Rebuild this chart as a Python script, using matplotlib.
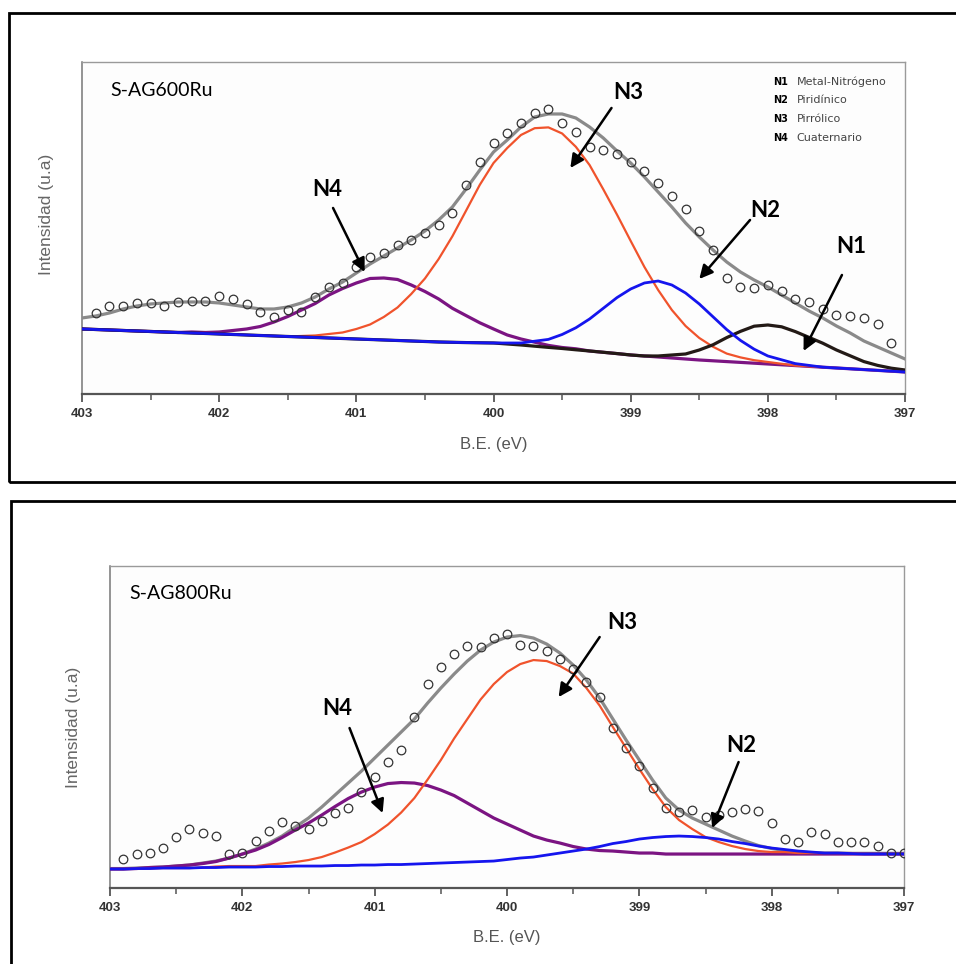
import numpy as np
import matplotlib.pyplot as plt
from matplotlib.patches import Rectangle
from matplotlib.ticker import MultipleLocator

plt.rcParams['font.family'] = ['DejaVu Sans']

# binding energy grid (eV), 0.1 eV steps
be = np.linspace(403, 397, 61)
tick_pos = [403, 402, 401, 400, 399, 398, 397]
tick_lab = ['403', '402', '401', '400', '399', '398', '397']

legend_codes = ['N1', 'N2', 'N3', 'N4']
legend_names = ['Metal-Nitrógeno', 'Piridínico', 'Pirrólico', 'Cuaternario']

# ---------------- S-AG600Ru ----------------
top_bg = [65, 64.5, 64, 63.5, 63, 62.5, 62, 61.5, 61, 60.5,
          60, 59.5, 59, 58.5, 58, 57.5, 57, 56.5, 56, 55.5,
          55, 54.5, 54, 53.5, 53, 52.5, 52, 51.7, 51.4, 51.2,
          51, 50, 49, 47.8, 46.6, 45.5, 44.2, 43, 41.7, 40.4,
          39, 38, 37, 36, 35, 34, 33.2, 32.4, 31.6, 30.8,
          30, 29.2, 28.4, 27.6, 26.8, 26, 25.2, 24.4, 23.6, 22.8,
          22]
top_n4 = [0, 0, 0, 0, 0, 0, 0, 0, 1, 1,
          2, 4, 6, 9, 14, 20, 27, 34, 43, 50,
          56, 61, 62, 61, 56, 50, 43, 34, 27, 20,
          14, 9, 6, 4, 2, 1, 1, 0, 0, 0,
          0, 0, 0, 0, 0, 0, 0, 0, 0, 0,
          0, 0, 0, 0, 0, 0, 0, 0, 0, 0,
          0]
top_n3 = [0, 0, 0, 0, 0, 0, 0, 0, 0, 0,
          0, 0, 0, 0, 0, 0, 1, 2, 4, 6,
          10, 15, 23, 33, 47, 63, 83, 106, 132, 158,
          180, 196, 210, 218, 220, 215, 203, 186, 163, 139,
          114, 89, 67, 48, 33, 22, 14, 8, 5, 3,
          2, 1, 0, 0, 0, 0, 0, 0, 0, 0,
          0]
top_n2 = [0, 0, 0, 0, 0, 0, 0, 0, 0, 0,
          0, 0, 0, 0, 0, 0, 0, 0, 0, 0,
          0, 0, 0, 0, 0, 0, 0, 0, 0, 0,
          0, 1, 2, 5, 8, 14, 22, 32, 44, 56,
          66, 73, 76, 73, 66, 56, 44, 32, 22, 14,
          8, 5, 2, 1, 0, 0, 0, 0, 0, 0,
          0]
top_n1 = [0, 0, 0, 0, 0, 0, 0, 0, 0, 0,
          0, 0, 0, 0, 0, 0, 0, 0, 0, 0,
          0, 0, 0, 0, 0, 0, 0, 0, 0, 0,
          0, 0, 0, 0, 0, 0, 0, 0, 0, 0,
          0, 0, 1, 3, 5, 10, 16, 24, 31, 37,
          39, 38, 34, 29, 24, 18, 13, 8, 5, 3,
          2]
top_env = [76, 78, 81, 85, 88, 90, 91, 92, 92, 92,
           91, 89, 87, 85, 85, 87, 91, 97, 105, 112,
           121, 130, 138, 146, 154, 163, 174, 187, 205, 224,
           242, 254, 267, 277, 280, 280, 276, 267, 256, 243,
           231, 217, 202, 187, 171, 157, 144, 132, 122, 114,
           107, 99, 91, 83, 76, 68, 61, 53, 47, 41,
           35]
top_pts = [80.7, 88, 88, 91.3, 90.7, 88, 91.7, 93.3, 93.3, 98,
           94.7, 89.7, 81.7, 77.3, 84, 82.3, 96.7, 107.3, 111.3, 127.3,
           137.3, 140.7, 149, 154, 160.7, 169, 180.7, 209, 232.3, 251.3,
           260.7, 271.3, 281.3, 284.7, 270.7, 262.3, 246.7, 244, 240, 232.3,
           223, 210.7, 198, 184.7, 163.3, 144, 115.7, 107.3, 106.3, 109,
           103.3, 94.7, 92.3, 84.7, 79, 78, 75.7, 70, 50.7]

# ---------------- S-AG800Ru ----------------
bot_bg = [19, 19, 19.5, 19.5, 20, 20, 20, 20.5, 20.5, 21,
          21, 21, 21.5, 21.5, 22, 22, 22, 22.5, 22.5, 23,
          23, 23.5, 23.5, 24, 24.5, 25, 25.5, 26, 26.5, 27,
          28, 29, 30, 31, 32, 32.5, 33, 33.5, 34, 34,
          34, 34, 34, 34, 34, 34, 34, 34, 34, 34,
          34, 34, 34, 34, 34, 34, 34, 34, 34, 34,
          34]
bot_n4 = [0, 0, 0, 1, 1, 2, 3, 4, 6, 9,
          13, 17, 22, 29, 36, 43, 51, 59, 67, 73,
          78, 81, 82, 81, 78, 73, 67, 59, 51, 43,
          36, 29, 22, 17, 13, 9, 6, 4, 3, 2,
          1, 1, 0, 0, 0, 0, 0, 0, 0, 0,
          0, 0, 0, 0, 0, 0, 0, 0, 0, 0,
          0]
bot_n3 = [0, 0, 0, 0, 0, 0, 0, 0, 1, 1,
          1, 1, 2, 3, 4, 6, 9, 13, 18, 23,
          31, 40, 52, 66, 84, 103, 124, 143, 162, 177,
          188, 195, 198, 196, 190, 182, 167, 149, 127, 106,
          85, 65, 47, 34, 25, 17, 12, 8, 5, 3,
          2, 2, 1, 1, 1, 1, 1, 0, 0, 0,
          0]
bot_n2 = [0, 0, 0, 0, 0, 0, 0, 0, 0, 0,
          0, 0, 0, 0, 0, 0, 0, 0, 0, 0,
          0, 0, 0, 0, 0, 0, 0, 0, 0, 0,
          0.5, 1, 1, 2, 3, 4.5, 6, 8, 10.5, 12.5,
          15, 16.5, 17.5, 18, 17.5, 16.5, 15, 12.5, 10.5, 8,
          6, 4.5, 3, 2, 1, 1, 0.5, 0, 0, 0,
          0]
bot_env = [19.5, 19.5, 20, 20.5, 21, 22, 23, 25, 27, 30,
           34, 39, 45, 52, 61, 70, 81, 93, 105, 117,
           130, 143, 156, 169, 185, 200, 214, 227, 238, 246,
           251, 252.5, 250, 244, 235, 223, 208, 190, 169, 148,
           128, 108, 90, 78, 70, 64, 58, 52, 47, 42.5,
           39.5, 37.5, 36, 35.3, 35, 35, 34.7, 34.7, 34.7, 34.7,
           34.7]
bot_pts = [28.7, 34, 34.7, 39.7, 51.3, 58.7, 54.7, 52, 34, 34.7,
           47.3, 57.3, 66.3, 62.3, 58.7, 67.3, 74.7, 79.7, 95.7, 111.3,
           126.3, 138, 171.3, 204, 221.3, 233.7, 242, 240.7, 250.3, 254,
           243, 242, 237.3, 228.7, 218.7, 206.3, 191.3, 159.7, 139.7, 122,
           99.7, 79.7, 76.3, 78, 71.3, 73, 76.3, 78.7, 77.3, 65.3,
           48.7, 46.3, 56.3, 54, 46.3, 46.3, 46.3, 42, 34.7, 35.3]

GRAY = '#8a8a8a'
RED = '#f0532c'
BLUE = '#1515ee'
PURPLE = '#7b1482'
BLACK = '#231a16'


def draw_panel(ax, bg, n1, n2, n3, n4, env, pts_x, pts, ymax):
    bg = np.array(bg)
    ax.plot(be, env, color=GRAY, lw=2.3, zorder=3)
    ax.plot(be, bg + np.array(n4), color=PURPLE, lw=2.3, zorder=4)
    ax.plot(be, bg + np.array(n3), color=RED, lw=1.6, zorder=4)
    if n1 is not None:
        ax.plot(be, bg + np.array(n1), color=BLACK, lw=2.3, zorder=4)
    ax.plot(be, bg + np.array(n2), color=BLUE, lw=2.0, zorder=5)
    ax.plot(pts_x, pts, 'o', mfc='none', mec='#333333', ms=6.2, mew=0.9, zorder=6)

    ax.set_xlim(403, 397)
    ax.set_ylim(0, ymax)
    ax.set_yticks([])
    ax.set_xticks(tick_pos, tick_lab, fontweight='bold', fontfamily='Liberation Sans',
                  fontsize=9.5, color='#333333')
    ax.xaxis.set_minor_locator(MultipleLocator(0.5))
    ax.tick_params(axis='x', which='major', direction='out', length=6, width=1.3,
                   color='#555555', pad=4)
    ax.tick_params(axis='x', which='minor', direction='out', length=4, width=1.1,
                   color='#555555')
    ax.set_facecolor('#fdfdfd')
    ax.spines['bottom'].set_color('#555555')
    ax.spines['bottom'].set_linewidth(1.6)
    ax.spines['left'].set_color('#777777')
    ax.spines['left'].set_linewidth(1.1)
    for s in ['top', 'right']:
        ax.spines[s].set_color('#9a9a9a')
        ax.spines[s].set_linewidth(1.0)
    ax.set_xlabel('B.E. (eV)', fontfamily='Liberation Sans', fontsize=12, color='#555555')
    ax.set_ylabel('Intensidad (u.a)', fontfamily='Liberation Sans', fontsize=12.5,
                  color='#666666')


def arrow(ax, label, text_xy, tail, tip):
    ax.text(text_xy[0], text_xy[1], label, fontfamily='Lato', fontweight='bold',
            fontsize=16, ha='center', va='center', zorder=8)
    ax.annotate('', xy=tip, xytext=tail, zorder=8,
                arrowprops=dict(arrowstyle='-|>', color='black', lw=1.8,
                                mutation_scale=20, shrinkA=0, shrinkB=0))


fig = plt.figure(figsize=(9.56, 9.64), dpi=100)

# outer frames
fig.add_artist(Rectangle((0.0094, 0.5), 1.0, 0.4865, transform=fig.transFigure,
                         fill=False, ec='black', lw=2.0))
fig.add_artist(Rectangle((0.0115, -0.02), 1.0, 0.5003, transform=fig.transFigure,
                         fill=False, ec='black', lw=2.0))

ax1 = fig.add_axes([0.0858, 0.5913, 0.8609, 0.3444])
ax2 = fig.add_axes([0.1151, 0.0788, 0.8305, 0.3340])

draw_panel(ax1, top_bg, top_n1, top_n2, top_n3, top_n4, top_env, be[1:60], top_pts, 332)
draw_panel(ax2, bot_bg, None, bot_n2, bot_n3, bot_n4, bot_env, be[1:], bot_pts, 322)

ax1.xaxis.set_label_coords(0.5, -0.13)
ax1.yaxis.set_label_coords(-0.034, 0.54)
ax2.xaxis.set_label_coords(0.5, -0.13)
ax2.yaxis.set_label_coords(-0.036, 0.5)

ax1.text(0.035, 0.913, 'S-AG600Ru', transform=ax1.transAxes, fontfamily='Lato',
         fontsize=14, va='center', ha='left')
ax2.text(0.024, 0.916, 'S-AG800Ru', transform=ax2.transAxes, fontfamily='Lato',
         fontsize=14, va='center', ha='left')

# legend block (top panel)
for k, (code, name) in enumerate(zip(legend_codes, legend_names)):
    yy = 0.94 - k * 0.056
    ax1.text(0.840, yy, code, transform=ax1.transAxes, fontsize=7, fontweight='bold',
             va='center', ha='left')
    ax1.text(0.868, yy, name, transform=ax1.transAxes, fontsize=8, color='#444444',
             va='center', ha='left')

# labels with arrows
arrow(ax1, 'N4', (401.21, 204), (401.17, 186), (400.94, 122))
arrow(ax1, 'N3', (399.02, 301), (399.14, 286), (399.44, 226))
arrow(ax1, 'N2', (398.02, 183), (398.13, 174), (398.50, 115))
arrow(ax1, 'N1', (397.39, 147), (397.46, 119), (397.74, 43))

arrow(ax2, 'N4', (401.28, 180), (401.19, 160), (400.94, 75))
arrow(ax2, 'N3', (399.13, 266), (399.30, 251), (399.61, 191))
arrow(ax2, 'N2', (398.23, 143), (398.25, 126), (398.45, 60))

fig.savefig('out.png', dpi=100)
